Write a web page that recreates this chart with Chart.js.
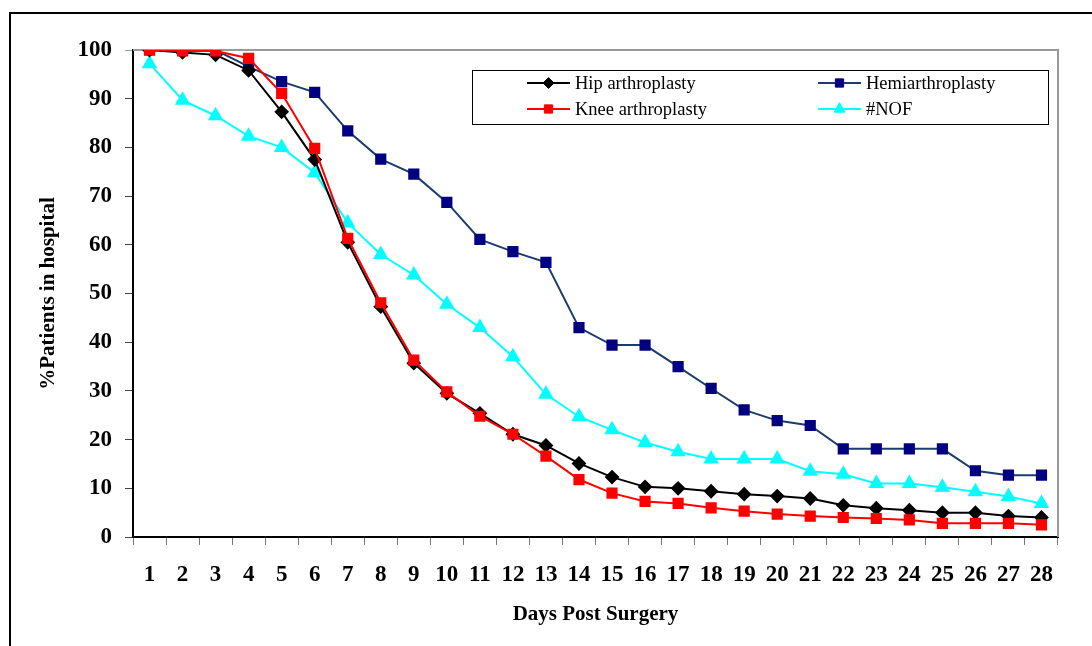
<!DOCTYPE html>
<html>
<head>
<meta charset="utf-8">
<script src="https://cdn.jsdelivr.net/npm/chart.js@4"></script>
<style>
  html, body { margin: 0; padding: 0; background: #fff; }
  #chart { display: block; }
</style>
</head>
<body>
<canvas id="chart" width="1092" height="646"></canvas>
<script>
const days = ['1','2','3','4','5','6','7','8','9','10','11','12','13','14','15','16','17','18','19','20','21','22','23','24','25','26','27','28'];
const hipArthroplasty = [100, 99.5, 99, 95.8, 87.3, 77.5, 60.5, 47.3, 35.7, 29.5, 25.4, 21.1, 18.8, 15.1, 12.3, 10.3, 10.0, 9.4, 8.8, 8.4, 7.9, 6.5, 5.9, 5.5, 5.0, 5.0, 4.3, 4.0];
const kneeArthroplasty = [100, 99.8, 99.8, 98.3, 91.1, 79.8, 61.3, 48.1, 36.3, 29.8, 24.8, 21.1, 16.6, 11.8, 9.0, 7.3, 6.9, 6.0, 5.3, 4.7, 4.3, 4.0, 3.8, 3.5, 2.8, 2.8, 2.8, 2.5];
const hemiarthroplasty = [100, 100, 100, 96.6, 93.5, 91.3, 83.4, 77.6, 74.5, 68.7, 61.1, 58.6, 56.4, 43.0, 39.4, 39.4, 35.0, 30.5, 26.1, 23.9, 22.9, 18.1, 18.1, 18.1, 18.1, 13.6, 12.7, 12.7];
const nof = [97.2, 89.7, 86.5, 82.3, 80.0, 74.8, 64.5, 58.0, 53.8, 47.8, 43.0, 37.0, 29.3, 24.7, 22.0, 19.4, 17.5, 16.0, 16.0, 16.0, 13.5, 12.9, 11.0, 11.0, 10.2, 9.3, 8.3, 6.9];
const yTicks = [0, 10, 20, 30, 40, 50, 60, 70, 80, 90, 100];

const serif = "'Liberation Serif', 'Times New Roman', serif";

// outer frame + grey plot border
const framePlugin = {
  id: 'frame',
  beforeDraw(chart) {
    const ctx = chart.ctx;
    ctx.save();
    ctx.fillStyle = '#fff';
    ctx.fillRect(0, 0, chart.width, chart.height);
    ctx.strokeStyle = '#000';
    ctx.lineWidth = 2;
    ctx.beginPath();
    ctx.moveTo(10, chart.height);
    ctx.lineTo(10, 13);
    ctx.lineTo(chart.width, 13);
    ctx.stroke();
    ctx.restore();
  },
  beforeDatasetsDraw(chart) {
    const a = chart.chartArea;
    const ctx = chart.ctx;
    ctx.save();
    ctx.strokeStyle = '#999';
    ctx.lineWidth = 2;
    ctx.beginPath();
    ctx.moveTo(a.left, a.top);
    ctx.lineTo(a.right, a.top);
    ctx.lineTo(a.right, a.bottom);
    ctx.stroke();
    ctx.restore();
  }
};

// legend box inside the plot, two columns
const boxLegend = {
  id: 'boxLegend',
  afterDatasetsDraw(chart) {
    const ctx = chart.ctx;
    const slots = [
      { ds: 0, x: 527, y: 83 },
      { ds: 2, x: 818, y: 83 },
      { ds: 1, x: 527, y: 109 },
      { ds: 3, x: 818, y: 109 }
    ];
    ctx.save();
    ctx.fillStyle = '#fff';
    ctx.fillRect(472, 70, 577, 54);
    ctx.strokeStyle = '#000';
    ctx.lineWidth = 1;
    ctx.strokeRect(472.5, 70.5, 576, 54);
    ctx.font = '18.5px ' + serif;
    ctx.textBaseline = 'middle';
    slots.forEach((s) => {
      const d = chart.data.datasets[s.ds];
      ctx.strokeStyle = d.borderColor;
      ctx.lineWidth = d.borderWidth;
      ctx.beginPath();
      ctx.moveTo(s.x, s.y);
      ctx.lineTo(s.x + 43, s.y);
      ctx.stroke();
      ctx.fillStyle = d.pointBackgroundColor;
      ctx.strokeStyle = d.pointBorderColor;
      ctx.lineWidth = 1;
      Chart.helpers.drawPoint(ctx, { pointStyle: d.pointStyle, radius: d.pointRadius * 0.9, rotation: 0, borderWidth: 1 }, s.x + 21.5, s.y);
      ctx.fillStyle = '#000';
      ctx.fillText(d.label, s.x + 48, s.y + 1);
    });
    ctx.restore();
  }
};

new Chart(document.getElementById('chart'), {
  type: 'line',
  data: {
    labels: days,
    datasets: [
      {
        label: 'Hip arthroplasty',
        data: hipArthroplasty,
        borderColor: '#000000',
        borderWidth: 2,
        pointStyle: 'rectRot',
        pointRadius: 6,
        pointBackgroundColor: '#000000',
        pointBorderColor: '#000000',
        order: 1
      },
      {
        label: 'Knee arthroplasty',
        data: kneeArthroplasty,
        borderColor: '#ff0000',
        borderWidth: 2,
        pointStyle: 'rect',
        pointRadius: 6.5,
        pointBackgroundColor: '#ff0000',
        pointBorderColor: '#ff0000',
        order: 0
      },
      {
        label: 'Hemiarthroplasty',
        data: hemiarthroplasty,
        borderColor: '#1b3d6d',
        borderWidth: 2,
        pointStyle: 'rect',
        pointRadius: 6.5,
        pointBackgroundColor: '#000080',
        pointBorderColor: '#000080',
        order: 2
      },
      {
        label: '#NOF',
        data: nof,
        borderColor: '#00ffff',
        borderWidth: 2,
        pointStyle: 'triangle',
        pointRadius: 7,
        pointBackgroundColor: '#00ffff',
        pointBorderColor: '#00ffff',
        order: 3
      }
    ]
  },
  options: {
    responsive: false,
    animation: false,
    layout: { padding: { left: 0, top: 50, right: 34, bottom: 0 } },
    elements: { line: { tension: 0 } },
    plugins: {
      legend: { display: false },
      tooltip: { enabled: false }
    },
    scales: {
      x: {
        type: 'category',
        offset: true,
        afterFit(scale) { scale.height = 109; },
        grid: {
          offset: true,
          drawOnChartArea: false,
          drawTicks: true,
          tickLength: 8,
          color: '#777',
          lineWidth: 1
        },
        border: { color: '#000', width: 2 },
        ticks: {
          color: '#000',
          padding: 16,
          maxRotation: 0,
          autoSkip: false,
          font: { family: serif, size: 23, weight: 'bold' }
        },
        title: {
          display: true,
          text: 'Days Post Surgery',
          color: '#000',
          padding: { top: 0, bottom: 19 },
          font: { family: serif, size: 21, weight: 'bold' }
        }
      },
      y: {
        min: 0,
        max: 100,
        afterFit(scale) { scale.width = 133; },
        afterBuildTicks(scale) { scale.ticks = yTicks.map((v) => ({ value: v })); },
        grid: {
          drawOnChartArea: false,
          drawTicks: true,
          tickLength: 8,
          color: (c) => (c.tick && c.tick.value === 100 ? '#999' : '#444'),
          lineWidth: 1
        },
        border: { color: '#000', width: 2 },
        ticks: {
          color: '#000',
          padding: 13,
          font: { family: serif, size: 23, weight: 'bold' }
        },
        title: {
          display: true,
          text: '%Patients in hospital',
          color: '#000',
          padding: { top: 36, bottom: 0 },
          font: { family: serif, size: 21, weight: 'bold' }
        }
      }
    }
  },
  plugins: [framePlugin, boxLegend]
});
</script>
</body>
</html>
